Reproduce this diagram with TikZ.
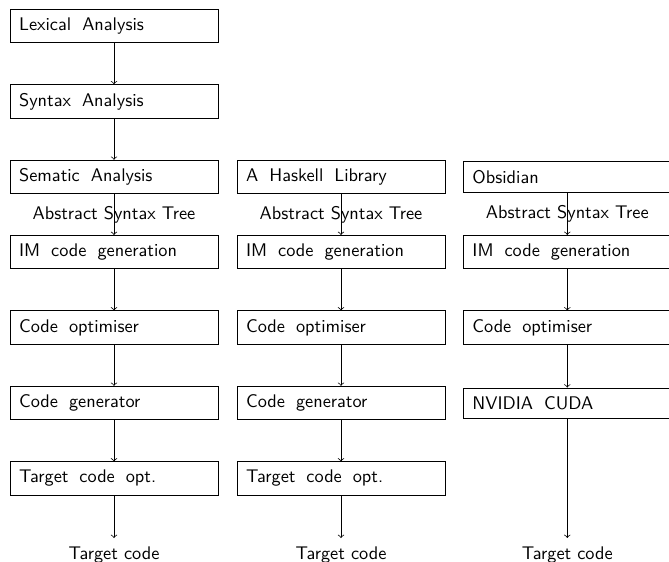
\documentclass[tikz,border=0pt]{standalone}
\begin{document}
\begin{tikzpicture}[x=0.5465pt,y=-0.5465pt,
  stagebox/.style={draw, text width=103.7pt, inner xsep=5pt, inner ysep=4.6pt, align=left,
    font=\sffamily, execute at begin node={\spaceskip=6pt plus 1pt minus 0.5pt\relax}},
  flow/.style={->},
  plainlabel/.style={font=\sffamily, inner sep=3.33pt},
  endlabel/.style={font=\sffamily, inner xsep=3.33pt, inner ysep=4.8pt, anchor=north}]
\clip (0,0) rectangle (669,561);
% column 1
\node[stagebox] (a1) at (114,26) {Lexical Analysis};
\node[stagebox] (a2) at (114,101.5) {Syntax Analysis};
\node[stagebox] (a3) at (114,177) {Sematic Analysis};
\node[stagebox] (a4) at (114,252) {IM code generation};
\node[stagebox] (a5) at (114,327.5) {Code optimiser};
\node[stagebox] (a6) at (114,403) {Code generator};
\node[stagebox] (a7) at (114,478.5) {Target code opt.};
\node[endlabel] (a8) at (114,538) {Target code};
% column 2
\node[stagebox] (b3) at (341,177) {A Haskell Library};
\node[stagebox] (b4) at (341,252) {IM code generation};
\node[stagebox] (b5) at (341,327.5) {Code optimiser};
\node[stagebox] (b6) at (341,403) {Code generator};
\node[stagebox] (b7) at (341,478.5) {Target code opt.};
\node[endlabel] (b8) at (341,538) {Target code};
% column 3
\node[stagebox] (c3) at (567.3,177) {Obsidian};
\node[stagebox] (c4) at (567.3,252) {IM code generation};
\node[stagebox] (c5) at (567.3,327.5) {Code optimiser};
\node[stagebox] (c6) at (567.3,403) {NVIDIA CUDA};
\node[endlabel] (c8) at (567.3,538) {Target code};
% arrows
\draw[flow] (a1) -- (a2);
\draw[flow] (a2) -- (a3);
\draw[flow] (a3) -- node[plainlabel] {Abstract Syntax Tree} (a4);
\draw[flow] (a4) -- (a5);
\draw[flow] (a5) -- (a6);
\draw[flow] (a6) -- (a7);
\draw[flow] (a7) -- (a8);
\draw[flow] (b3) -- node[plainlabel] {Abstract Syntax Tree} (b4);
\draw[flow] (b4) -- (b5);
\draw[flow] (b5) -- (b6);
\draw[flow] (b6) -- (b7);
\draw[flow] (b7) -- (b8);
\draw[flow] (c3) -- node[plainlabel] {Abstract Syntax Tree} (c4);
\draw[flow] (c4) -- (c5);
\draw[flow] (c5) -- (c6);
\draw[flow] (c6) -- (c8);
\end{tikzpicture}
\end{document}
